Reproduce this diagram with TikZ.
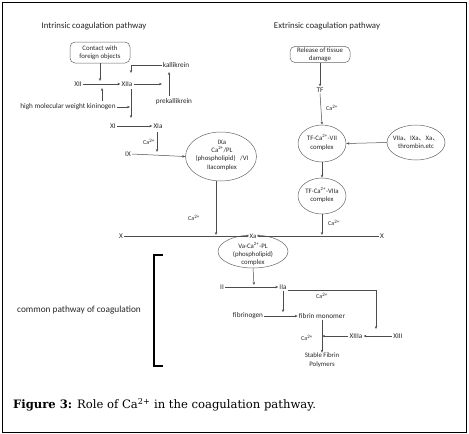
\documentclass[tikz,border=0pt]{standalone}
\usepackage{fontspec}
\setmainfont{DejaVu Serif}
\newfontfamily\diag{Carlito}
\newfontfamily\cjk{Noto Sans CJK SC}
\usetikzlibrary{arrows.meta,shapes.geometric}
\begin{document}
\begin{tikzpicture}[x=1pt,y=-1pt,
  lab/.style={font=\diag\fontsize{7.2}{8}\selectfont, inner sep=1pt, text=black!85},
  ttl/.style={font=\diag\fontsize{8.8}{10}\selectfont, inner sep=0pt, text=black!85},
  ca/.style={font=\diag\fontsize{6}{7}\selectfont, inner sep=0.5pt, text=black!85},
  ell/.style={draw=black!60, ellipse, line width=0.5pt, inner sep=0pt},
  etext/.style={font=\diag\fontsize{6.8}{8.4}\selectfont, align=center, inner sep=0pt, text=black!85},
  rbox/.style={draw=black!60, rounded corners=5pt, line width=0.5pt, align=center, inner sep=1pt,
    font=\diag\fontsize{6.8}{8.2}\selectfont, text=black!85},
  arr/.style={draw=black!70, line width=0.5pt, -{Stealth[length=3pt,width=2.4pt]}},
  ln/.style={draw=black!70, line width=0.5pt}]

\useasboundingbox (0,0) rectangle (469,434);
\draw[line width=1pt] (2,2) rectangle (466,432);

% titles
\node[ttl] (tin) at (94,26) {Intrinsic coagulation pathway};
\node[ttl] (tex) at (327,26) {Extrinsic coagulation pathway};

% intrinsic
\node[rbox, minimum width=60, minimum height=21] (contact) at (100,52.5) {Contact with\\foreign objects};
\node[lab] (xii) at (78,84) {XII};
\node[lab] (xiia) at (127,84) {XIIa};
\node[lab] (kal) at (176,65) {kallikrein};
\node[lab] (prek) at (174,102) {prekallikrein};
\node[lab] (hmwk) at (68,107) {high molecular weight kininogen};
\node[lab] (xi) at (113,126) {XI};
\node[lab] (xia) at (158,126) {XIa};
\node[ca] (ca1) at (149,142) {Ca\textsuperscript{2+}};
\node[lab] (ix) at (128,154) {IX};

\node[ell, minimum width=71, minimum height=49] (ixa) at (221,156.5) {};
\node[etext] (ixat) at (222,155) {IXa\\Ca\textsuperscript{2+}/PL\\(phospholipid)~~~/VI\\IIacomplex};
\node[ca] (ca2) at (194,218) {Ca\textsuperscript{2+}};

% coordinates
\coordinate (c1) at (100,81);
\coordinate (u1) at (102,101);
\coordinate (u2) at (102,88);
\coordinate (v1) at (131,89);
\coordinate (v2) at (131,118);
\coordinate (hk) at (130,107);
\coordinate (k1) at (131,65);
\coordinate (k2) at (131,73);
\coordinate (r1) at (162,84);
\coordinate (p1) at (169,96);
\coordinate (p2) at (169,72);

\draw[arr] (contact.south) -- (c1);
\draw[arr] (xii.east) -- (xiia.west);
\draw[arr] (u1) -- (u2);
\draw[arr] (hmwk.east) -- (hk);
\draw[arr] (v1) -- (v2);
\draw[arr] (kal.west) -- (k1) -- (k2);
\draw[arr] (xiia.east) -- (r1);
\draw[arr] (p1) -- (p2);
\draw[arr] (xi.east) -- (xia.west);
\draw[arr] (xia.south) ++(-1,2) -- (157,152);
\draw[arr] (ix.east) -- (ixa.west);

% extrinsic
\node[rbox, minimum width=60, minimum height=16] (rel) at (320,54.5) {Release of tissue\\damage};
\node[lab] (tf) at (320,90) {TF};
\node[ca] (ca3) at (332,108) {Ca\textsuperscript{2+}};
\node[ell, minimum width=48, minimum height=37] (tfvii) at (322,143.5) {};
\node[etext] at (322,142.5) {TF-Ca\textsuperscript{2+}-VII\\complex};
\node[ell, minimum width=58, minimum height=35] (vii) at (416,142.5) {};
\node[etext] at (416,142.5) {VIIa{\cjk 、}IXa{\cjk 、}Xa{\cjk 、}\\thrombin.etc};
\node[ell, minimum width=48, minimum height=36] (tfviia) at (322,196) {};
\node[etext] at (322,195) {TF-Ca\textsuperscript{2+}-VIIa\\complex};
\node[ca] (ca4) at (334,223) {Ca\textsuperscript{2+}};

\draw[arr] (rel.south) -- (tf.north);
\draw[arr] (tf.south) -- (tfvii.north);
\draw[arr] (vii.west) -- (tfvii.east);
\draw[arr] (tfvii.south) -- (tfviia.north);

% X line and central complex
\node[lab] (xl) at (121,236) {X};
\node[lab] (xr) at (382,236) {X};
\node[ell, minimum width=70, minimum height=33] (va) at (253,251.5) {};
\node[etext, fill=white, inner sep=0.3pt] (xa) at (253,236) {Xa};
\node[etext] at (253,254) {Va-Ca\textsuperscript{2+}-PL\\(phospholipid)\\complex};

\coordinate (x1) at (216,235);
\coordinate (x2) at (322,235);
\draw[arr] (xl.east) -- (xa.west);
\draw[arr] (xr.west) -- (xa.east);
\draw[arr] (ixa.south) ++(-5,0) -- (x1);
\draw[arr] (tfviia.south) -- (x2);

% common pathway
\draw[line width=1.5pt] (163,255) -- (154,255) -- (154,366) -- (163,366);
\node[ttl, font=\diag\fontsize{9.3}{10}\selectfont] (common) at (79,310) {common pathway of coagulation};

\node[lab] (ii) at (222,287) {II};
\node[lab] (iia) at (283,287) {IIa};
\node[ca] (ca5) at (322,296) {Ca\textsuperscript{2+}};
\node[lab] (fbg) at (248,316) {fibrinogen};
\node[lab] (fm) at (322,316) {fibrin monomer};
\node[lab] (xiiia) at (356,336) {XIIIa};
\node[lab] (xiii) at (398,336) {XIII};
\node[ca] (ca6) at (307,338) {Ca\textsuperscript{2+}};
\node[etext] (sfp) at (322,360) {Stable Fibrin\\Polymers};

\coordinate (t1) at (254,285);
\coordinate (b1) at (376,290);
\coordinate (b2) at (376,329);
\coordinate (m1) at (322,336);

\draw[arr] (va.south) -- (t1);
\draw[arr] (ii.east) -- (iia.west);
\draw[arr] (iia.east |- b1) -- (b1) -- (b2);
\draw[arr] (iia.south) -- (iia.south |- fm.north);
\draw[arr] (fbg.east) -- (fm.west);
\draw[arr] (fm.south -| sfp.north) -- (sfp.north);
\draw[arr] (xiiia.west) -- (m1);
\draw[arr] (xiii.west) -- (xiiia.east);

% caption
\node[anchor=west, inner sep=0pt, font=\fontsize{11.6}{13}\selectfont] (cap) at (13,405)
  {\textbf{Figure 3:} Role of Ca\textsuperscript{2+} in the coagulation pathway.};
\end{tikzpicture}
\end{document}
